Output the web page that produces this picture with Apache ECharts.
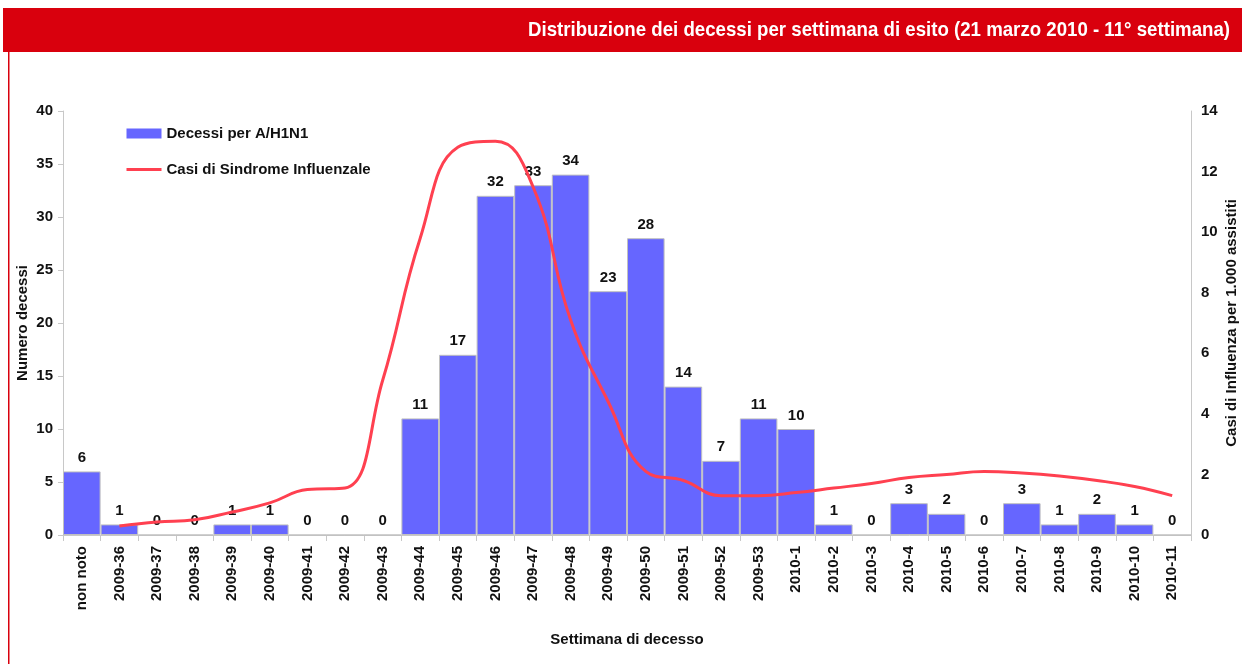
<!DOCTYPE html>
<html>
<head>
<meta charset="utf-8">
<script src="https://cdn.jsdelivr.net/npm/echarts@6/dist/echarts.min.js"></script>
<style>
  html, body { margin: 0; padding: 0; background: #ffffff; }
  #chart { width: 1242px; height: 664px; }
</style>
</head>
<body>
<div id="chart"></div>
<script>
// settimane
const weeks = [
  "non noto", "2009-36", "2009-37", "2009-38", "2009-39", "2009-40", "2009-41",
  "2009-42", "2009-43", "2009-44", "2009-45", "2009-46", "2009-47", "2009-48",
  "2009-49", "2009-50", "2009-51", "2009-52", "2009-53", "2010-1", "2010-2",
  "2010-3", "2010-4", "2010-5", "2010-6", "2010-7", "2010-8", "2010-9",
  "2010-10", "2010-11"
];
// decessi per A/H1N1
const deaths = [6, 1, 0, 0, 1, 1, 0, 0, 0, 11, 17, 32, 33, 34, 23, 28, 14, 7, 11, 10, 1, 0, 3, 2, 0, 3, 1, 2, 1, 0];
// casi di sindrome influenzale per 1.000 assistiti (stimati dal grafico)
const ili = [null, 0.3, 0.43, 0.5, 0.76, 1.06, 1.5, 1.55, 5.1, 9.8, 12.8, 13.0, 11.5, 7.1, 4.4, 2.1, 1.8, 1.3, 1.3, 1.4, 1.55, 1.7, 1.9, 2.0, 2.1, 2.05, 1.95, 1.8, 1.6, 1.3];
const leftTicks = [0, 5, 10, 15, 20, 25, 30, 35, 40];
const rightTicks = [0, 2, 4, 6, 8, 10, 12, 14];

const TITLE = "Distribuzione dei decessi per settimana di esito (21 marzo 2010 - 11° settimana)";
const FONT = "'Liberation Sans', Arial, sans-serif";
const TITLE_FONT = "bold 21px 'Liberation Sans', Arial, sans-serif";

// il titolo originale e' in un carattere stretto: lo comprimo in orizzontale
const ctx = document.createElement("canvas").getContext("2d");
ctx.font = TITLE_FONT;
const titleScale = 702 / ctx.measureText(TITLE).width;

const chart = echarts.init(document.getElementById("chart"));

const labelStyle = { fontSize: 15, fontWeight: "bold", color: "#111" };

const option = {
  backgroundColor: "#ffffff",
  animation: false,
  textStyle: { fontFamily: FONT },
  graphic: [
    // barra rossa del titolo
    { type: "rect", left: 3, top: 8, shape: { width: 1239, height: 44 }, style: { fill: "#d9000d" } },
    { type: "rect", left: 8, top: 52, shape: { width: 1.5, height: 612 }, style: { fill: "#d9000d" } },
    {
      type: "text", x: 1230, y: 30, scaleX: titleScale,
      style: {
        text: TITLE,
        fill: "#ffffff",
        font: TITLE_FONT,
        align: "right",
        verticalAlign: "middle"
      }
    }
  ],
  legend: {
    orient: "vertical",
    left: 120,
    top: 121,
    itemWidth: 35,
    itemHeight: 10,
    itemGap: 21,
    textStyle: { fontSize: 15, fontWeight: "bold", color: "#111", fontFamily: FONT },
    data: [
      { name: "Decessi per A/H1N1", icon: "rect", itemStyle: { borderWidth: 0 } },
      { name: "Casi di Sindrome Influenzale", itemStyle: { opacity: 0 }, lineStyle: { width: 3 } }
    ]
  },
  grid: { left: 63, right: 51, top: 111, bottom: 129, outerBoundsMode: "none" },
  xAxis: {
    type: "category",
    data: weeks,
    name: "Settimana di decesso",
    nameLocation: "middle",
    nameGap: 97,
    nameMoveOverlap: false,
    nameTextStyle: labelStyle,
    axisLine: { lineStyle: { color: "#c8c8c8" } },
    axisTick: { show: true, length: 6, lineStyle: { color: "#c8c8c8" } },
    axisLabel: Object.assign({ rotate: 90, margin: 11, interval: 0 }, labelStyle)
  },
  yAxis: [
    {
      type: "value",
      min: 0, max: 40, interval: 5,
      name: "Numero decessi",
      nameLocation: "middle",
      nameRotate: 90,
      nameGap: 33,
      nameMoveOverlap: false,
      nameTextStyle: labelStyle,
      axisLine: { show: true, lineStyle: { color: "#c8c8c8" } },
      axisTick: { show: true, length: 5, lineStyle: { color: "#c8c8c8" } },
      axisLabel: Object.assign({ margin: 10 }, labelStyle),
      splitLine: { show: false }
    },
    {
      type: "value",
      min: 0, max: 14, interval: 2,
      name: "Casi di Influenza per 1.000 assistiti",
      nameLocation: "middle",
      nameRotate: 90,
      nameGap: 33,
      nameMoveOverlap: false,
      nameTextStyle: labelStyle,
      axisLine: { show: true, lineStyle: { color: "#c8c8c8" } },
      axisTick: { show: false },
      axisLabel: Object.assign({ margin: 10 }, labelStyle),
      splitLine: { show: false }
    }
  ],
  series: [
    {
      name: "Decessi per A/H1N1",
      type: "bar",
      data: deaths,
      yAxisIndex: 0,
      barCategoryGap: "0%",
      itemStyle: { color: "#6666ff", borderColor: "#c0c0c0", borderWidth: 1 },
      label: Object.assign({ show: true, position: "top", distance: 6 }, labelStyle)
    },
    {
      name: "Casi di Sindrome Influenzale",
      type: "line",
      data: ili,
      yAxisIndex: 1,
      smooth: 0.45,
      symbol: "none",
      itemStyle: { color: "#ff4050" },
      lineStyle: { color: "#ff4050", width: 3 }
    }
  ]
};

chart.setOption(option);
</script>
</body>
</html>
